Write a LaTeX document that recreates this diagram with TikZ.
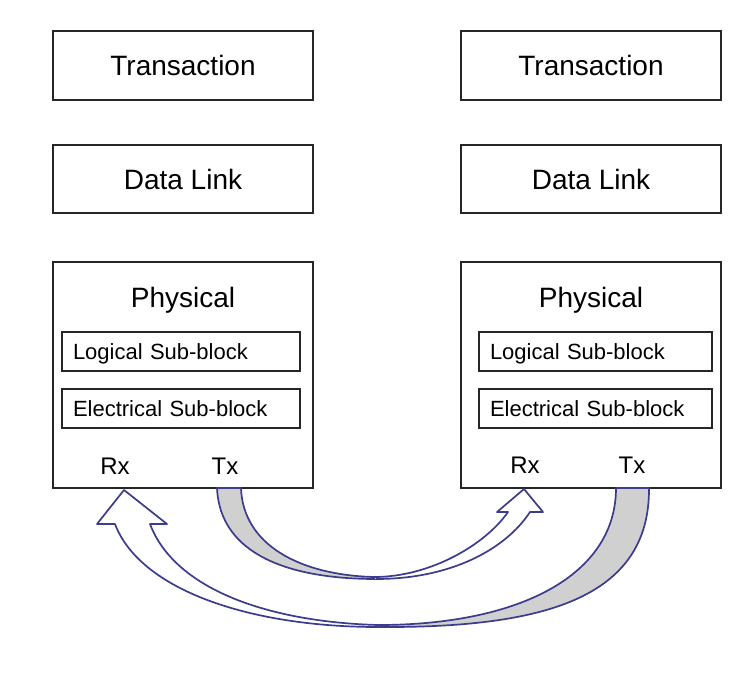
\documentclass[tikz,border=0pt]{standalone}
\usepackage{fontspec}
\setmainfont{Liberation Sans}
\definecolor{arrowblue}{RGB}{60,60,140}
\definecolor{bandgray}{RGB}{208,208,208}
\tikzset{
	layer/.style={draw=black!85, line width=1.3pt, minimum width=260pt, font=\fontsize{28}{32}\selectfont},
	subblock/.style={draw=black!85, line width=1.3pt, minimum height=39pt, inner xsep=11pt, text height=15.75pt, text depth=0pt, align=left, font=\fontsize{22}{26}\selectfont},
	port/.style={font=\fontsize{24}{28}\selectfont},
	bigarrow/.style={draw=arrowblue, line width=1.7pt, line join=round},
}
\begin{document}
\begin{tikzpicture}[x=1pt, y=-1pt]
		\useasboundingbox (0,0) rectangle (754,674);
		
		\foreach \s/\x/\sx/\sw/\rx/\tx/\py in {L/183/181/216/115/225/466, R/591/595.5/211/525/632/465}
		{
			\node[layer, minimum height=69pt] (trans\s) at (\x, 65.5) {Transaction};
			\node[layer, minimum height=68pt] (link\s) at (\x, 179) {Data Link};
			\node[layer, minimum height=226pt] (phys\s) at (\x, 375) {};
			\node[font=\fontsize{28}{32}\selectfont, anchor=base] (physlbl\s) at (\x, 307) {Physical};
			\node[subblock, text width=\sw pt] (logic\s) at (\sx, 351.5) {Logical Sub-block};
			\node[subblock, text width=\sw pt] (elec\s) at (\sx, 408.5) {Electrical Sub-block};
			\node[port] (rx\s) at (\rx, \py) {Rx};
			\node[port] (tx\s) at (\tx, \py) {Tx};
		}
		
		% left Tx -> right Rx
		\draw[bigarrow, fill=bandgray] (217,488) .. controls (220,555) and (290,579) .. (376,579)
			-- (374,577) .. controls (300,575) and (243,545) .. (241,488) -- cycle;
		\draw[bigarrow, fill=white] (376,579) .. controls (450,579) and (505,550) .. (530,512)
			-- (543,512) -- (524,489) -- (497,512) -- (508,512)
			.. controls (485,545) and (430,577) .. (374,577);
		
		% right Tx -> left Rx
		\draw[bigarrow, fill=bandgray] (649,488) .. controls (650,600) and (540,628) .. (378,627)
			-- (378,625) .. controls (520,625) and (616,575) .. (616,488) -- cycle;
		\draw[bigarrow, fill=white] (378,627) .. controls (250,627) and (140,590) .. (115,524)
			-- (97,524) -- (124,490) -- (167,524) -- (150,524)
			.. controls (175,590) and (270,622) .. (378,625);
	\end{tikzpicture}
\end{document}
